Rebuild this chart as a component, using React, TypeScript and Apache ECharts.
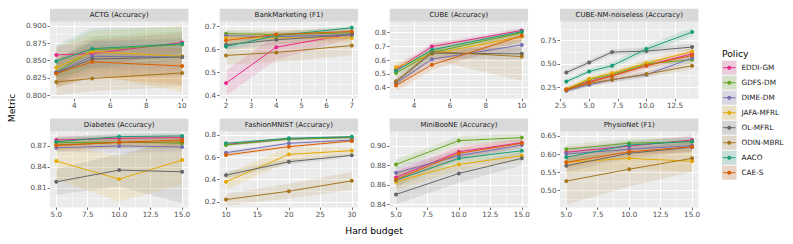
import React, { useEffect, useRef } from 'react';
import * as echarts from 'echarts';

const POLICIES = ['EDDI-GM', 'GDFS-DM', 'DIME-DM', 'JAFA-MFRL', 'OL-MFRL', 'ODIN-MBRL', 'AACO', 'CAE-S'];
const COLORS = ['#E7298A', '#66A61E', '#7570B3', '#E6AB02', '#666666', '#A6761D', '#1B9E77', '#D95F02'];

const ACTG_X = [3, 5, 10];
const ACTG_MEAN = [
  [0.858, 0.860, 0.876], [0.833, 0.865, 0.873], [0.833, 0.856, 0.855], [0.840, 0.863, 0.856],
  [0.832, 0.852, 0.855], [0.819, 0.824, 0.832], [0.849, 0.867, 0.874], [0.831, 0.848, 0.842],
];
const ACTG_LO = [
  [0.845, 0.840, 0.862], [0.815, 0.845, 0.855], [0.815, 0.835, 0.835], [0.812, 0.830, 0.805],
  [0.812, 0.825, 0.828], [0.800, 0.806, 0.812], [0.825, 0.838, 0.850], [0.810, 0.825, 0.815],
];
const ACTG_HI = [
  [0.870, 0.880, 0.890], [0.850, 0.885, 0.892], [0.850, 0.877, 0.875], [0.868, 0.893, 0.900],
  [0.852, 0.878, 0.882], [0.838, 0.843, 0.852], [0.872, 0.897, 0.898], [0.852, 0.870, 0.868],
];
const ACTG_XTICKS = [4, 6, 8, 10];
const ACTG_YTICKS = [0.8, 0.825, 0.85, 0.875, 0.9];

const BANK_X = [2, 4, 7];
const BANK_MEAN = [
  [0.454, 0.610, 0.668], [0.668, 0.665, 0.672], [0.660, 0.655, 0.665], [0.650, 0.650, 0.650],
  [0.620, 0.642, 0.664], [0.574, 0.587, 0.617], [0.613, 0.660, 0.694], [0.639, 0.665, 0.678],
];
const BANK_LO = [
  [0.400, 0.555, 0.650], [0.650, 0.650, 0.655], [0.640, 0.638, 0.648], [0.625, 0.628, 0.630],
  [0.598, 0.622, 0.645], [0.535, 0.545, 0.575], [0.598, 0.648, 0.684], [0.620, 0.648, 0.662],
];
const BANK_HI = [
  [0.508, 0.665, 0.686], [0.686, 0.680, 0.690], [0.680, 0.672, 0.682], [0.675, 0.672, 0.670],
  [0.642, 0.662, 0.683], [0.613, 0.629, 0.659], [0.628, 0.672, 0.704], [0.658, 0.682, 0.694],
];
const BANK_XTICKS = [2, 3, 4, 5, 6, 7];
const BANK_YTICKS = [0.4, 0.5, 0.6, 0.7];

const CUBE_X = [3, 5, 10];
const CUBE_MEAN = [
  [0.530, 0.698, 0.815], [0.505, 0.655, 0.800], [0.432, 0.606, 0.710], [0.548, 0.643, 0.771],
  [0.441, 0.650, 0.645], [0.445, 0.662, 0.625], [0.521, 0.674, 0.807], [0.415, 0.565, 0.776],
];
const CUBE_LO = [
  [0.500, 0.675, 0.795], [0.475, 0.630, 0.775], [0.405, 0.575, 0.670], [0.515, 0.610, 0.735],
  [0.415, 0.615, 0.600], [0.410, 0.600, 0.450], [0.495, 0.650, 0.785], [0.375, 0.525, 0.740],
];
const CUBE_HI = [
  [0.560, 0.720, 0.835], [0.535, 0.680, 0.825], [0.460, 0.637, 0.750], [0.580, 0.676, 0.805],
  [0.467, 0.685, 0.690], [0.480, 0.720, 0.800], [0.547, 0.698, 0.829], [0.455, 0.605, 0.812],
];
const CUBE_XTICKS = [4, 6, 8, 10];
const CUBE_YTICKS = [0.4, 0.5, 0.6, 0.7, 0.8];

const CNM_X = [3, 5, 7, 10, 14];
const CNM_MEAN = [
  [0.225, 0.310, 0.372, 0.482, 0.607], [0.220, 0.330, 0.385, 0.500, 0.543],
  [0.210, 0.275, 0.329, 0.383, 0.561], [0.230, 0.340, 0.400, 0.507, 0.632],
  [0.407, 0.514, 0.625, 0.636, 0.679], [0.220, 0.290, 0.330, 0.390, 0.479],
  [0.310, 0.418, 0.479, 0.658, 0.840], [0.225, 0.300, 0.370, 0.480, 0.590],
];
const CNM_LO = [
  [0.205, 0.285, 0.345, 0.450, 0.570], [0.200, 0.305, 0.355, 0.465, 0.505],
  [0.190, 0.255, 0.305, 0.355, 0.520], [0.205, 0.310, 0.365, 0.470, 0.590],
  [0.380, 0.485, 0.595, 0.600, 0.640], [0.195, 0.260, 0.300, 0.355, 0.440],
  [0.285, 0.390, 0.445, 0.620, 0.790], [0.205, 0.275, 0.340, 0.445, 0.550],
];
const CNM_HI = [
  [0.245, 0.335, 0.400, 0.515, 0.645], [0.240, 0.355, 0.415, 0.535, 0.580],
  [0.230, 0.295, 0.353, 0.411, 0.600], [0.255, 0.370, 0.435, 0.545, 0.675],
  [0.434, 0.543, 0.655, 0.672, 0.718], [0.245, 0.320, 0.360, 0.425, 0.518],
  [0.335, 0.446, 0.513, 0.696, 0.890], [0.245, 0.325, 0.400, 0.515, 0.630],
];
const CNM_XTICKS = [2.5, 5, 7.5, 10, 12.5];
const CNM_YTICKS = [0.25, 0.5, 0.75];

const DIAB_X = [5, 10, 15];
const DIAB_MEAN = [
  [0.8786, 0.8810, 0.8820], [0.8748, 0.8753, 0.8740], [0.8676, 0.8700, 0.8686], [0.8484, 0.8225, 0.8498],
  [0.8186, 0.8354, 0.8330], [0.8714, 0.8748, 0.8760], [0.8760, 0.8834, 0.8844], [0.8705, 0.8753, 0.8786],
];
const DIAB_LO = [
  [0.872, 0.876, 0.877], [0.866, 0.867, 0.866], [0.862, 0.860, 0.862], [0.822, 0.790, 0.815],
  [0.800, 0.812, 0.788], [0.862, 0.866, 0.867], [0.870, 0.878, 0.879], [0.864, 0.869, 0.872],
];
const DIAB_HI = [
  [0.885, 0.886, 0.887], [0.883, 0.884, 0.882], [0.873, 0.880, 0.875], [0.875, 0.855, 0.884],
  [0.837, 0.859, 0.878], [0.881, 0.884, 0.885], [0.882, 0.888, 0.889], [0.877, 0.882, 0.885],
];
const DIAB_XTICKS = [5, 7.5, 10, 12.5, 15];
const DIAB_YTICKS = [0.81, 0.84, 0.87];

const FASH_X = [10, 20, 30];
const FASH_MEAN = [
  [0.715, 0.765, 0.780], [0.710, 0.761, 0.776], [0.641, 0.725, 0.755], [0.380, 0.626, 0.659],
  [0.440, 0.560, 0.617], [0.221, 0.296, 0.389], [0.725, 0.770, 0.785], [0.620, 0.695, 0.746],
];
const FASH_LO = [
  [0.700, 0.755, 0.770], [0.698, 0.751, 0.766], [0.628, 0.713, 0.744], [0.310, 0.560, 0.630],
  [0.410, 0.535, 0.600], [0.170, 0.230, 0.310], [0.713, 0.760, 0.776], [0.605, 0.683, 0.735],
];
const FASH_HI = [
  [0.730, 0.775, 0.790], [0.722, 0.771, 0.786], [0.654, 0.737, 0.766], [0.450, 0.692, 0.688],
  [0.470, 0.585, 0.634], [0.272, 0.362, 0.468], [0.737, 0.780, 0.794], [0.635, 0.707, 0.757],
];
const FASH_XTICKS = [10, 15, 20, 25, 30];
const FASH_YTICKS = [0.2, 0.4, 0.6, 0.8];

const MINI_X = [5, 10, 15];
const MINI_MEAN = [
  [0.8676, 0.8940, 0.9034], [0.8810, 0.9055, 0.9086], [0.8724, 0.8900, 0.9010], [0.8630, 0.8810, 0.8900],
  [0.8500, 0.8717, 0.8873], [], [0.8648, 0.8872, 0.8951], [0.8655, 0.8924, 0.9028],
];
const MINI_LO = [
  [0.860, 0.888, 0.899], [0.876, 0.901, 0.905], [0.866, 0.885, 0.897], [0.855, 0.875, 0.885],
  [0.840, 0.862, 0.880], [], [0.858, 0.882, 0.891], [0.858, 0.886, 0.898],
];
const MINI_HI = [
  [0.875, 0.900, 0.908], [0.886, 0.910, 0.912], [0.879, 0.895, 0.905], [0.871, 0.887, 0.895],
  [0.860, 0.881, 0.894], [], [0.872, 0.892, 0.899], [0.873, 0.898, 0.907],
];
const MINI_XTICKS = [5, 7.5, 10, 12.5, 15];
const MINI_YTICKS = [0.84, 0.86, 0.88, 0.9];

const PHYS_X = [5, 10, 15];
const PHYS_MEAN = [
  [0.605, 0.622, 0.639], [0.613, 0.630, 0.634], [0.600, 0.613, 0.623], [0.577, 0.588, 0.580],
  [0.5675, 0.602, 0.619], [0.525, 0.558, 0.588], [0.591, 0.625, 0.635], [0.577, 0.606, 0.620],
];
const PHYS_LO = [
  [0.590, 0.610, 0.628], [0.600, 0.618, 0.622], [0.585, 0.600, 0.610], [0.545, 0.560, 0.550],
  [0.550, 0.588, 0.606], [0.460, 0.510, 0.550], [0.578, 0.613, 0.623], [0.562, 0.593, 0.607],
];
const PHYS_HI = [
  [0.620, 0.634, 0.652], [0.626, 0.642, 0.646], [0.615, 0.626, 0.636], [0.610, 0.616, 0.610],
  [0.585, 0.616, 0.632], [0.590, 0.606, 0.626], [0.604, 0.637, 0.647], [0.592, 0.619, 0.633],
];
const PHYS_XTICKS = [5, 7.5, 10, 12.5, 15];
const PHYS_YTICKS = [0.5, 0.55, 0.6, 0.65];

const PANELS = [
  { title: 'ACTG (Accuracy)', x: ACTG_X, mean: ACTG_MEAN, lo: ACTG_LO, hi: ACTG_HI, xt: ACTG_XTICKS, yt: ACTG_YTICKS, xr: [2.65, 10.35], yr: [0.7947, 0.9058], xd: 0, yd: 3 },
  { title: 'BankMarketing (F1)', x: BANK_X, mean: BANK_MEAN, lo: BANK_LO, hi: BANK_HI, xt: BANK_XTICKS, yt: BANK_YTICKS, xr: [1.75, 7.25], yr: [0.386, 0.72], xd: 0, yd: 1 },
  { title: 'CUBE (Accuracy)', x: CUBE_X, mean: CUBE_MEAN, lo: CUBE_LO, hi: CUBE_HI, xt: CUBE_XTICKS, yt: CUBE_YTICKS, xr: [2.65, 10.35], yr: [0.318, 0.878], xd: 0, yd: 1 },
  { title: 'CUBE-NM-noiseless (Accuracy)', x: CNM_X, mean: CNM_MEAN, lo: CNM_LO, hi: CNM_HI, xt: CNM_XTICKS, yt: CNM_YTICKS, xr: [2.45, 14.55], yr: [0.125, 0.95], xd: 1, yd: 2 },
  { title: 'Diabetes (Accuracy)', x: DIAB_X, mean: DIAB_MEAN, lo: DIAB_LO, hi: DIAB_HI, xt: DIAB_XTICKS, yt: DIAB_YTICKS, xr: [4.5, 15.5], yr: [0.7818, 0.8906], xd: 1, yd: 2 },
  { title: 'FashionMNIST (Accuracy)', x: FASH_X, mean: FASH_MEAN, lo: FASH_LO, hi: FASH_HI, xt: FASH_XTICKS, yt: FASH_YTICKS, xr: [9, 31], yr: [0.15, 0.83], xd: 0, yd: 1 },
  { title: 'MiniBooNE (Accuracy)', x: MINI_X, mean: MINI_MEAN, lo: MINI_LO, hi: MINI_HI, xt: MINI_XTICKS, yt: MINI_YTICKS, xr: [4.5, 15.5], yr: [0.8366, 0.9148], xd: 1, yd: 2 },
  { title: 'PhysioNet (F1)', x: PHYS_X, mean: PHYS_MEAN, lo: PHYS_LO, hi: PHYS_HI, xt: PHYS_XTICKS, yt: PHYS_YTICKS, xr: [4.5, 15.5], yr: [0.452, 0.662], xd: 1, yd: 2 },
];

const FONT = "'DejaVu Sans', sans-serif";
const COL_LEFT = [50, 219.7, 389.7, 560];
const PANEL_W = 138.4;
const ROW_TOP = [21.8, 131.6];
const ROW_H = [77, 75.9];
const STRIP_H = 13;
const BAND_ALPHA = 0.13;

function rgba(hex: string, a: number) {
  const n = parseInt(hex.slice(1), 16);
  return `rgba(${(n >> 16) & 255},${(n >> 8) & 255},${n & 255},${a})`;
}

function minorBreaks(ticks: number[], range: number[]) {
  const step = ticks[1] - ticks[0];
  const out: number[] = [];
  const cands = [ticks[0] - step / 2, ...ticks.map((t) => t + step / 2)];
  cands.forEach((v) => {
    if (v > range[0] + 1e-9 && v < range[1] - 1e-9) out.push(+v.toFixed(6));
  });
  return out;
}

function buildOption() {
  const grid: any[] = [];
  const xAxis: any[] = [];
  const yAxis: any[] = [];
  const series: any[] = [];
  const graphic: any[] = [];
  const axisText = { color: '#4D4D4D', fontSize: 7.2, fontFamily: FONT };
  const tickStyle = { color: '#333333', width: 0.7 };

  PANELS.forEach((p, i) => {
    const c = i % 4;
    const r = Math.floor(i / 4);
    const left = COL_LEFT[c];
    const top = ROW_TOP[r];
    grid.push({
      left, top, width: PANEL_W, height: ROW_H[r], show: true,
      backgroundColor: '#EBEBEB', borderWidth: 0, containLabel: false, outerBoundsMode: 'none',
    });
    xAxis.push({
      type: 'value', gridIndex: i, min: p.xr[0], max: p.xr[1],
      axisLine: { show: false },
      axisTick: { show: true, length: 2.5, lineStyle: tickStyle, customValues: p.xt },
      axisLabel: { ...axisText, margin: 3.5, customValues: p.xt, formatter: (v: number) => v.toFixed(p.xd) },
      splitLine: { show: true, lineStyle: { color: '#FFFFFF', width: 1 } },
    });
    yAxis.push({
      type: 'value', gridIndex: i, min: p.yr[0], max: p.yr[1],
      axisLine: { show: false },
      axisTick: { show: true, length: 2.5, lineStyle: tickStyle, customValues: p.yt },
      axisLabel: { ...axisText, margin: 3.5, customValues: p.yt, formatter: (v: number) => v.toFixed(p.yd) },
      splitLine: { show: true, lineStyle: { color: '#FFFFFF', width: 1 } },
    });

    graphic.push({
      type: 'rect', silent: true,
      shape: { x: left, y: top - STRIP_H, width: PANEL_W, height: STRIP_H },
      style: { fill: '#D9D9D9' },
    });
    graphic.push({
      type: 'text', silent: true, x: left + PANEL_W / 2, y: top - STRIP_H / 2,
      style: { text: p.title, fill: '#1A1A1A', fontSize: 7, fontFamily: FONT, align: 'center', verticalAlign: 'middle' },
    });

    const xs = p.x;
    p.mean.forEach((m, k) => {
      if (!m.length) return;
      const lo = p.lo[k];
      const hi = p.hi[k];
      series.push({
        type: 'custom', name: POLICIES[k] + ' band', xAxisIndex: i, yAxisIndex: i, silent: true, z: 1,
        clip: true,
        data: xs.map((x, j) => [x, lo[j], hi[j]]),
        encode: { x: 0, y: [1, 2] },
        renderItem: (params: any, api: any) => {
          if (params.dataIndex !== 0) return null;
          const upper = xs.map((x, j) => api.coord([x, hi[j]]));
          const lower = xs.map((x, j) => api.coord([x, lo[j]])).reverse();
          return {
            type: 'polygon',
            shape: { points: upper.concat(lower) },
            style: { fill: rgba(COLORS[k], BAND_ALPHA) },
          };
        },
      });
    });
    p.mean.forEach((m, k) => {
      if (!m.length) return;
      series.push({
        type: 'line', name: POLICIES[k], xAxisIndex: i, yAxisIndex: i, z: 3,
        data: xs.map((x, j) => [x, m[j]]),
        symbol: 'circle', symbolSize: 4, showSymbol: true,
        lineStyle: { color: COLORS[k], width: 1 },
        itemStyle: { color: COLORS[k] },
        emphasis: { disabled: true },
      });
    });
  });

  PANELS.forEach((p, i) => {
    const mx = minorBreaks(p.xt, p.xr);
    const my = minorBreaks(p.yt, p.yr);
    xAxis.push({
      type: 'value', gridIndex: i, min: p.xr[0], max: p.xr[1], position: 'top',
      axisLine: { show: false },
      axisTick: { show: false, customValues: mx },
      axisLabel: { show: false, customValues: mx },
      splitLine: { show: true, lineStyle: { color: '#FFFFFF', width: 0.5 } },
    });
    yAxis.push({
      type: 'value', gridIndex: i, min: p.yr[0], max: p.yr[1], position: 'right',
      axisLine: { show: false },
      axisTick: { show: false, customValues: my },
      axisLabel: { show: false, customValues: my },
      splitLine: { show: true, lineStyle: { color: '#FFFFFF', width: 0.5 } },
    });
  });

  graphic.push({
    type: 'text', silent: true, x: 374, y: 230.5,
    style: { text: 'Hard budget', fill: '#000000', fontSize: 9.2, fontFamily: FONT, align: 'center', verticalAlign: 'middle' },
  });
  graphic.push({
    type: 'text', silent: true, x: 11.5, y: 108, rotation: Math.PI / 2,
    style: { text: 'Metric', fill: '#000000', fontSize: 9.2, fontFamily: FONT, align: 'center', verticalAlign: 'middle' },
  });

  const LX = 722;
  const LY0 = 67.7;
  const LSTEP = 15;
  graphic.push({
    type: 'text', silent: true, x: LX, y: 53.5,
    style: { text: 'Policy', fill: '#000000', fontSize: 9.2, fontFamily: FONT, align: 'left', verticalAlign: 'middle' },
  });
  POLICIES.forEach((name, k) => {
    const cy = LY0 + k * LSTEP;
    graphic.push({ type: 'rect', silent: true, shape: { x: LX, y: cy - 7, width: 14.5, height: 14 }, style: { fill: '#EBEBEB' } });
    graphic.push({ type: 'rect', silent: true, shape: { x: LX, y: cy - 7, width: 14.5, height: 14 }, style: { fill: rgba(COLORS[k], 0.16) } });
    graphic.push({ type: 'line', silent: true, shape: { x1: LX + 1, y1: cy, x2: LX + 13.5, y2: cy }, style: { stroke: COLORS[k], lineWidth: 1 } });
    graphic.push({ type: 'circle', silent: true, shape: { cx: LX + 7.25, cy, r: 2 }, style: { fill: COLORS[k] } });
    graphic.push({
      type: 'text', silent: true, x: LX + 19.5, y: cy,
      style: { text: name, fill: '#1A1A1A', fontSize: 7.3, fontFamily: FONT, align: 'left', verticalAlign: 'middle' },
    });
  });

  return {
    animation: false,
    backgroundColor: '#FFFFFF',
    grid, xAxis, yAxis, series, graphic,
    tooltip: { show: false },
  };
}

export default function App() {
  const ref = useRef<HTMLDivElement>(null);
  useEffect(() => {
    if (!ref.current) return;
    document.documentElement.style.margin = '0';
    document.documentElement.style.padding = '0';
    document.body.style.margin = '0';
    document.body.style.padding = '0';
    document.body.style.overflow = 'hidden';
    const chart = echarts.init(ref.current, undefined, { renderer: 'svg' });
    chart.setOption(buildOption() as any);
    return () => chart.dispose();
  }, []);
  return (
    <div
      ref={ref}
      style={{ position: 'fixed', left: 0, top: 0, width: 793, height: 244, background: '#fff', margin: 0 }}
    />
  );
}
